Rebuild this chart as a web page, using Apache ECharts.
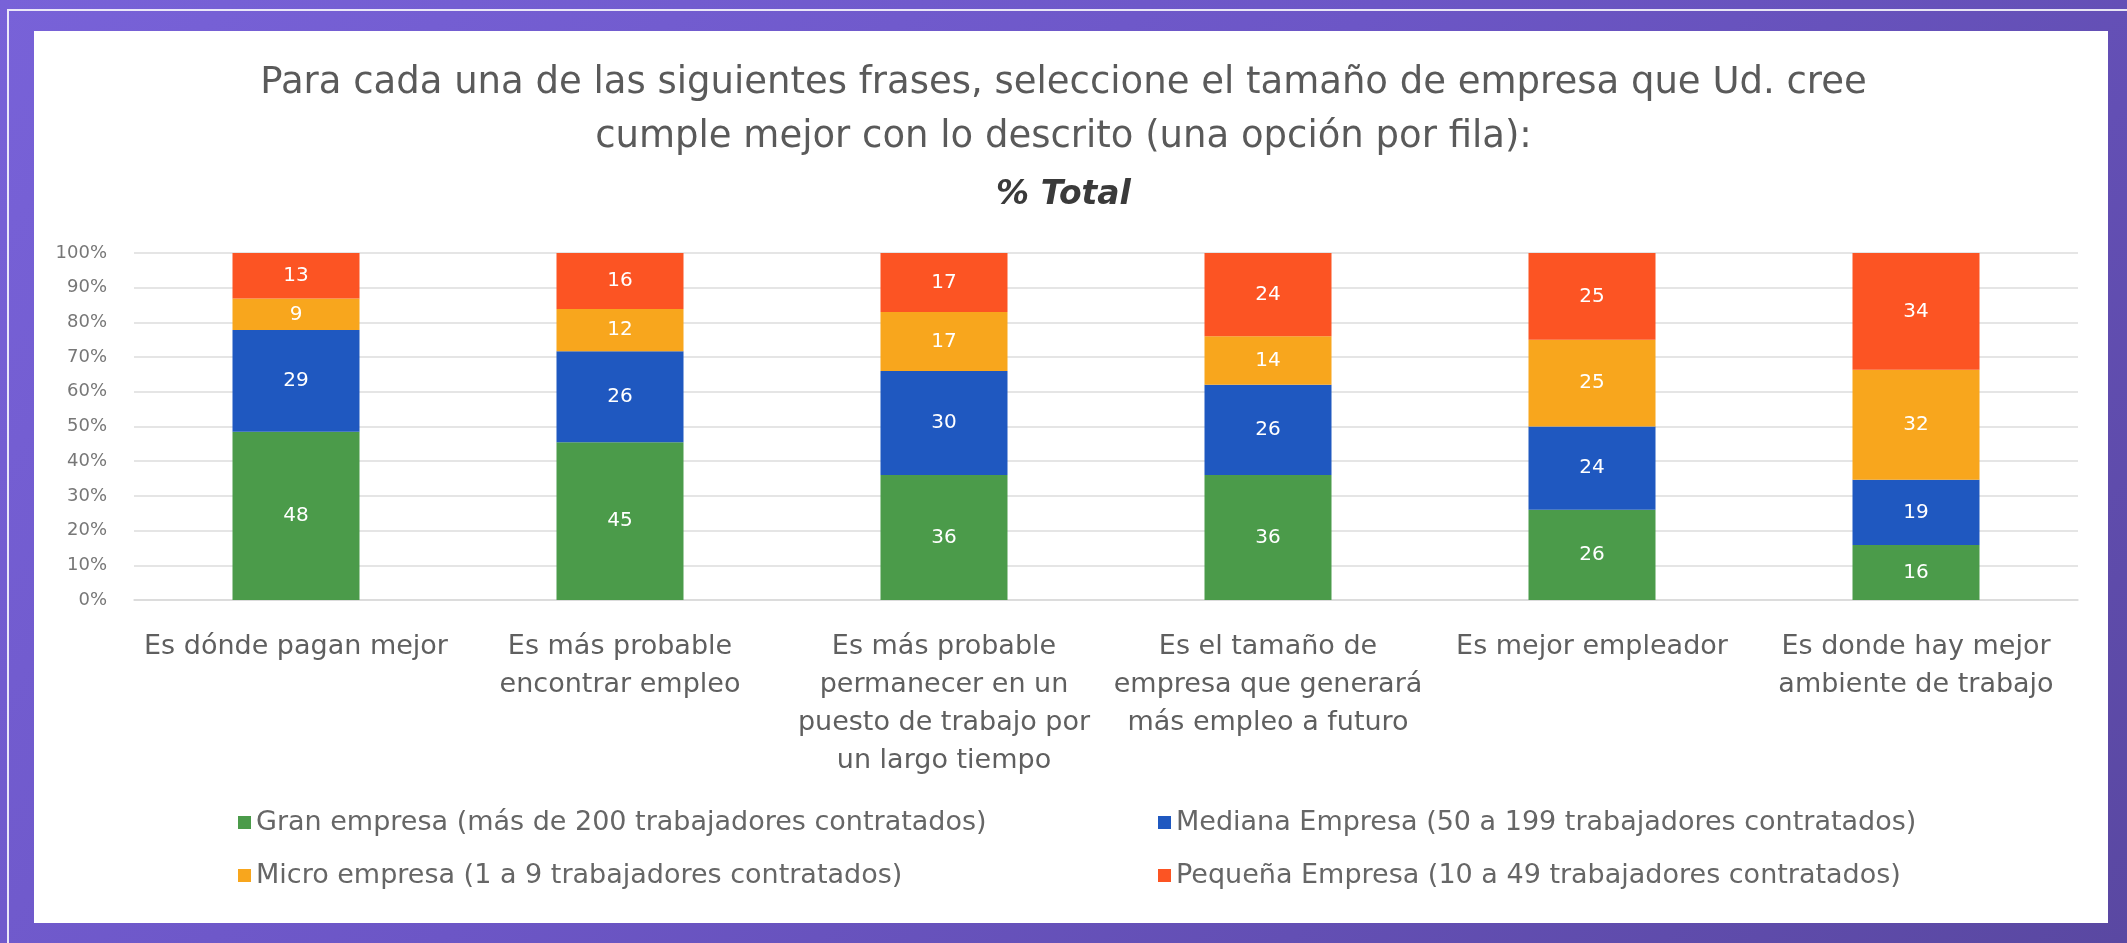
<!DOCTYPE html>
<html>
<head>
<meta charset="utf-8">
<script src="https://cdn.jsdelivr.net/npm/echarts@6/dist/echarts.min.js"></script>
<style>
  html, body { margin: 0; padding: 0; }
  body {
    width: 2127px; height: 943px; overflow: hidden; position: relative;
    background: linear-gradient(135deg, #7862d8 0%, #6c56c6 45%, #5a48a2 100%);
  }
  .frame {
    position: absolute; left: 7px; top: 9px; right: -10px; bottom: -10px;
    border: 2px solid rgba(255,255,255,0.85);
  }
  .card {
    position: absolute; left: 34px; top: 31px; width: 2074px; height: 892px;
    background: #ffffff;
  }
  #main { position: absolute; left: 0; top: 0; width: 2127px; height: 943px; }
</style>
</head>
<body>
<div class="frame"></div>
<div class="card"></div>
<div id="main"></div>
<script>
// categories (x axis)
var categories = [
  'Es dónde pagan mejor',
  'Es más probable\nencontrar empleo',
  'Es más probable\npermanecer en un\npuesto de trabajo por\nun largo tiempo',
  'Es el tamaño de\nempresa que generará\nmás empleo a futuro',
  'Es mejor empleador',
  'Es donde hay mejor\nambiente de trabajo'
];
// series values (% of answers)
var gran    = [48, 45, 36, 36, 26, 16];
var mediana = [29, 26, 30, 26, 24, 19];
var micro   = [9, 12, 17, 14, 25, 32];
var pequena = [13, 16, 17, 24, 25, 34];
var seriesNames = [
  'Gran empresa (más de 200 trabajadores contratados)',
  'Mediana Empresa (50 a 199 trabajadores contratados)',
  'Micro empresa (1 a 9 trabajadores contratados)',
  'Pequeña Empresa (10 a 49 trabajadores contratados)'
];
var colors = ['#4b9b4a', '#1f58c0', '#f8a61d', '#fc5423'];
var yTicks = [0, 10, 20, 30, 40, 50, 60, 70, 80, 90, 100];
var titleLines = [
  'Para cada una de las siguientes frases, seleccione el tamaño de empresa que Ud. cree',
  'cumple mejor con lo descrito (una opción por fila):'
];
var subTitle = '% Total';

var FONT = 'DejaVu Sans';
var all = [gran, mediana, micro, pequena];
var totals = categories.map(function (c, i) {
  return all.reduce(function (s, arr) { return s + arr[i]; }, 0);
});

function makeSeries(k) {
  return {
    name: seriesNames[k],
    type: 'bar',
    stack: 'total',
    barWidth: 127,
    itemStyle: { color: colors[k] },
    label: {
      show: true,
      position: 'inside',
      color: '#ffffff',
      fontFamily: FONT,
      fontSize: 20,
      formatter: function (p) { return all[k][p.dataIndex]; }
    },
    // 100% stacked: each bar normalised to its total
    data: all[k].map(function (v, i) { return v / totals[i] * 100; })
  };
}

function legendBox(names, x) {
  return {
    data: names,
    orient: 'vertical',
    left: x, top: 804,
    itemWidth: 13, itemHeight: 13, itemGap: 26,
    icon: 'rect',
    textStyle: { fontFamily: FONT, fontSize: 27, color: '#666666' }
  };
}

var myChart = echarts.init(document.getElementById('main'));
var option = {
  animation: false,
  backgroundColor: 'transparent',
  title: [
    {
      text: titleLines[0], left: 'center', top: 60,
      textStyle: { fontFamily: FONT, fontSize: 37, fontWeight: 'normal', color: '#5a5a5a' }
    },
    {
      text: titleLines[1], left: 'center', top: 114,
      textStyle: { fontFamily: FONT, fontSize: 37, fontWeight: 'normal', color: '#5a5a5a' }
    },
    {
      text: subTitle, left: 'center', top: 174,
      textStyle: { fontFamily: FONT, fontSize: 33, fontWeight: 'bold', fontStyle: 'italic', color: '#3a3a3a' }
    }
  ],
  legend: [
    legendBox([seriesNames[0], seriesNames[2]], 233),
    legendBox([seriesNames[1], seriesNames[3]], 1153)
  ],
  grid: { left: 134, right: 49, top: 253, bottom: 343, containLabel: false },
  xAxis: {
    type: 'category',
    data: categories,
    axisTick: { show: false },
    axisLine: { lineStyle: { color: '#d9d9d9', width: 1.5 } },
    axisLabel: {
      interval: 0,
      margin: 28,
      fontFamily: FONT, fontSize: 27, lineHeight: 38,
      color: '#5f5f5f'
    }
  },
  yAxis: {
    type: 'value',
    min: yTicks[0],
    max: yTicks[yTicks.length - 1],
    interval: 10,
    axisLine: { show: false },
    axisTick: { show: false },
    splitLine: { lineStyle: { color: '#dcdcdc', width: 1.5 } },
    axisLabel: {
      margin: 27,
      fontFamily: FONT, fontSize: 18, color: '#777777',
      formatter: '{value}%'
    }
  },
  series: [makeSeries(0), makeSeries(1), makeSeries(2), makeSeries(3)]
};
myChart.setOption(option);
</script>
</body>
</html>
